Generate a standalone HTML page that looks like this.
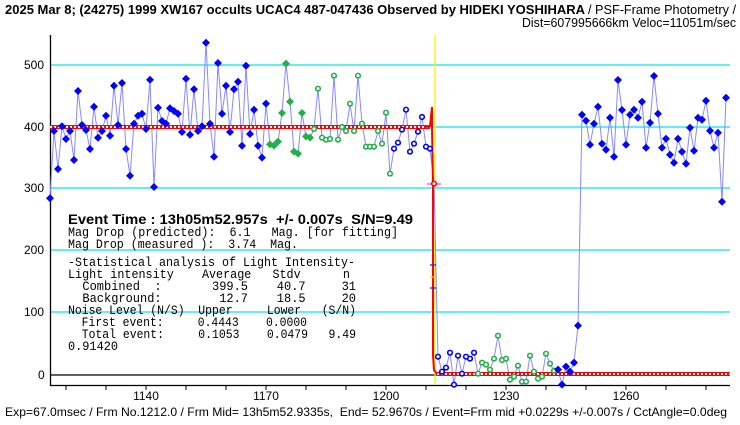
<!DOCTYPE html>
<html><head><meta charset="utf-8"><style>
html,body{margin:0;padding:0;background:#fff;width:740px;height:425px;overflow:hidden}
svg{display:block}
text{font-family:"Liberation Sans","Noto Sans CJK JP",sans-serif;fill:#000;white-space:pre}
.m{font-family:"Liberation Mono","Noto Sans CJK JP",monospace;font-size:12.5px}
</style></head><body>
<svg id="s" width="740" height="425" xmlns="http://www.w3.org/2000/svg" xml:space="preserve">
<text x="5" y="14" font-size="13" font-weight="bold" textLength="580" lengthAdjust="spacingAndGlyphs">2025 Mar 8; (24275) 1999 XW167 occults UCAC4 487-047436 Observed by HIDEKI YOSHIHARA</text>
<text x="588" y="14" font-size="12.5" textLength="148" lengthAdjust="spacingAndGlyphs">/ PSF-Frame Photometry /</text>
<text x="522" y="27" font-size="12.5" textLength="214" lengthAdjust="spacingAndGlyphs">Dist=607995666km Veloc=11051m/sec</text>
<g stroke="#00e5ee" stroke-width="1.3">
<line x1="50" x2="730" y1="65" y2="65"/><line x1="50" x2="730" y1="127" y2="127"/><line x1="50" x2="730" y1="188" y2="188"/><line x1="50" x2="730" y1="250" y2="250"/><line x1="50" x2="730" y1="312" y2="312"/>
</g>
<line x1="50" x2="730" y1="375" y2="375" stroke="#000" stroke-width="1.3"/>
<line x1="50.5" x2="50.5" y1="35" y2="386" stroke="#000" stroke-width="1.3"/>
<line x1="50" x2="730" y1="385.5" y2="385.5" stroke="#000" stroke-width="1.3"/>
<g id="ticks" stroke="#000"></g>
<g font-size="12">
<text x="24" y="69">500</text><text x="24" y="131">400</text><text x="24" y="192">300</text><text x="24" y="254">200</text><text x="24" y="316">100</text><text x="38" y="379">0</text>
<text x="146" y="400" text-anchor="middle">1140</text><text x="266" y="400" text-anchor="middle">1170</text><text x="386" y="400" text-anchor="middle">1200</text><text x="506" y="400" text-anchor="middle">1230</text><text x="626" y="400" text-anchor="middle">1260</text>
</g>
<line x1="435" x2="435" y1="35" y2="385" stroke="#ffee00" stroke-width="1.3"/>
<polyline id="conn" fill="none" stroke="#8888ff" stroke-width="1"/>
<g stroke="#f00" stroke-width="4" fill="none"><line x1="50" x2="430" y1="127" y2="127"/><line x1="437" x2="730" y1="374" y2="374"/></g>
<g stroke="#fff" stroke-width="2" stroke-dasharray="2 2" fill="none"><line x1="50" x2="430" y1="127" y2="127"/><line x1="437" x2="730" y1="374" y2="374"/></g>
<polyline points="426,127 430,126 432,107 432,127 433,184 433,355 434,370 437,374" fill="none" stroke="#f00" stroke-width="2"/>
<line x1="427" x2="441" y1="184" y2="184" stroke="#ff40ff" stroke-width="1.3"/>
<g stroke="#2020ff" stroke-width="1.3"><line x1="430" x2="436" y1="265" y2="265"/><line x1="430" x2="436" y1="288" y2="288"/></g>
<line x1="430" x2="436" y1="277" y2="277" stroke="#ffd000" stroke-width="1.3"/>
<g id="pts"></g>
<text x="68" y="224" font-size="13.5" font-weight="bold" textLength="345" lengthAdjust="spacingAndGlyphs">Event Time : 13h05m52.957s  +/- 0.007s  S/N=9.49</text>
<text class="m" x="68" y="236" textLength="330" lengthAdjust="spacingAndGlyphs">Mag Drop (predicted):  6.1   Mag. [for fitting]</text>
<text class="m" x="68" y="248" textLength="230" lengthAdjust="spacingAndGlyphs">Mag Drop (measured ):  3.74  Mag.</text>
<text class="m" x="68" y="266" textLength="287" lengthAdjust="spacingAndGlyphs">-Statistical analysis of Light Intensity-</text>
<text class="m" x="68" y="278" textLength="282" lengthAdjust="spacingAndGlyphs">Light intensity    Average   Stdv      n</text>
<text class="m" x="68" y="290" textLength="288" lengthAdjust="spacingAndGlyphs">  Combined  :       399.5    40.7     31</text>
<text class="m" x="68" y="302" textLength="288" lengthAdjust="spacingAndGlyphs">  Background:        12.7    18.5     20</text>
<text class="m" x="68" y="314" textLength="288" lengthAdjust="spacingAndGlyphs">Noise Level (N/S)  Upper     Lower   (S/N)</text>
<text class="m" x="68" y="326" textLength="239" lengthAdjust="spacingAndGlyphs">  First event:     0.4443    0.0000</text>
<text class="m" x="68" y="338" textLength="288" lengthAdjust="spacingAndGlyphs">  Total event:     0.1053    0.0479   9.49</text>
<text class="m" x="68" y="350" textLength="50" lengthAdjust="spacingAndGlyphs">0.91420</text>
<text x="5" y="416" font-size="12" textLength="722" lengthAdjust="spacingAndGlyphs">Exp=67.0msec / Frm No.1212.0 / Frm Mid= 13h5m52.9335s,  End= 52.9670s / Event=Frm mid +0.0229s +/-0.007s / CctAngle=0.0deg</text>
</svg>
<script>
var NS="http://www.w3.org/2000/svg";
var P=[];
function add(x,y,t){P.push([x,y,t]);}
var a=[198.3,131,169,126.3,139,131,160,91,125,130,149,106.7,137.7,131,115.7,135.7,85.7,125,83,149,175.7,123.7,115.7,113.7,129,79.7,187,107.7,121,123.7,108.3,111,113.7,132,78.7,134.7,89.3,131,126.3,42.7,123.7,156.7,63,113.7,85.7,132,89.3,81.7,145.7,65.7,134,109.7,145.7];
a.forEach(function(y,i){add(50+4*i,y,'bf');});
var b=[[368,'bf'],[206,'bf']];
[328,332,320,234,86,200,350,356,234,304,308].forEach(function(v){b.push([v,'gf']);});
[282,161,308,314,312,122,314,276,288,206,288,122,266,335,335,335,288,326,233,416].forEach(function(v){b.push([v,'go']);});
[341,323,284,224,350,326,290,246,335,341].forEach(function(v){b.push([v,'bo']);});
b.push([446,'ro']);
b.forEach(function(p,i){add(262+4*i,35+p[0]/3,p[1]);});
var c=[];
[170,215,203,158,254,167,221,170,176,158].forEach(function(v){c.push([v,'bo']);});
[221,188,194,209,176,107,180,176,239,230,197,245,245,167,215,236,230,161,191,212].forEach(function(v){c.push([v,'go']);});
[209,254,200,215,188,77].forEach(function(v){c.push([v,'bf']);});
c.forEach(function(p,i){add(438+4*i,300+p[0]/3,p[1]);});
var d=[114.7,120.7,144.7,123.7,106.7,143.7,149.7,117.7,156.7,80,110,144.7,114.7,109.7,117.7,101.7,147.7,122.7,76,113.7,147.7,138.7,154.7,162.7,138.7,151.7,163.7,127.7,150.7,117.7,119.7,100.7,130.7,147.7,132.7,201.7,97.7];
d.forEach(function(y,i){add(582+4*i,y,'bf');});
document.getElementById('conn').setAttribute('points',P.map(function(p){return p[0]+','+p[1];}).join(' '));
var g=document.getElementById('pts');
P.forEach(function(p){
  var x=p[0],y=p[1],t=p[2],e;
  if(t=='bf'||t=='gf'){
    e=document.createElementNS(NS,'polygon');
    e.setAttribute('points',(x)+','+(y-4)+' '+(x+4)+','+y+' '+x+','+(y+4)+' '+(x-4)+','+y);
    e.setAttribute('fill',t=='bf'?'#0000ff':'#22b04a');
  } else {
    e=document.createElementNS(NS,'circle');
    e.setAttribute('cx',x);e.setAttribute('cy',y);e.setAttribute('r',2.3);
    e.setAttribute('fill','#fff');e.setAttribute('stroke-width','1.6');
    e.setAttribute('stroke',t=='bo'?'#0000ff':(t=='go'?'#22b04a':'#ff0000'));
  }
  g.appendChild(e);
});
var tk=document.getElementById('ticks');
for(var x=66;x<730;x+=40){var l=document.createElementNS(NS,'line');l.setAttribute('x1',x);l.setAttribute('x2',x);l.setAttribute('y1',385);l.setAttribute('y2',390);tk.appendChild(l);}
</script>
</body></html>
